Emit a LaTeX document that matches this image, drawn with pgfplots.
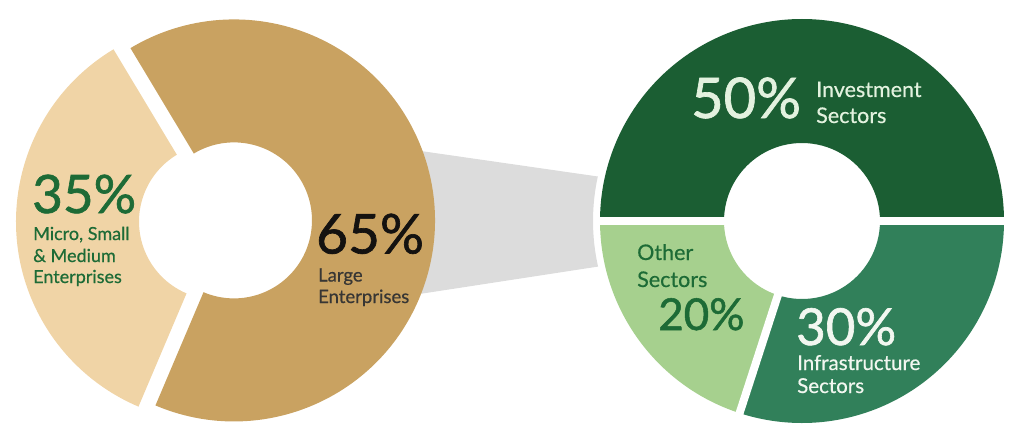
\documentclass[border=0pt]{standalone}
\usepackage{pgfplots}
\usepackage{pgfplotstable}
\pgfplotsset{compat=1.18}
\usetikzlibrary{calc}
\usepackage{fontspec}
\setmainfont{Lato}
\newfontfamily\latoB{Lato}[FakeBold=1.2]
\newfontfamily\latoM{Lato}[FakeBold=0.5]

\definecolor{tanD}{HTML}{C9A261}
\definecolor{tanL}{HTML}{F0D4A6}
\definecolor{grD}{HTML}{1B5E33}
\definecolor{grM}{HTML}{31805A}
\definecolor{grL}{HTML}{A6D08E}
\definecolor{band}{HTML}{DCDCDC}
\definecolor{txtG}{HTML}{1D6B36}
\definecolor{txtMint}{HTML}{E3F2DF}
\definecolor{txtW}{HTML}{F2F7F0}
\definecolor{txtK}{HTML}{141210}

% left donut: share of enterprises
\pgfplotstableread{
sector pct
MSME 35
Large 65
}\leftdata
% right donut: sectors of large enterprises
\pgfplotstableread{
sector pct
Investment 50
Other 20
Infrastructure 30
}\rightdata

\newcommand\donutwedge[7]{% cx cy a1 a2 R r color
  \fill[#7] ($(axis cs:#1,#2)+(#3:#5pt)$) arc[start angle=#3, end angle=#4, radius=#5pt]
    -- ($(axis cs:#1,#2)+(#4:#6pt)$) arc[start angle=#4, end angle=#3, radius=#6pt] -- cycle;}
\newcommand\lbl[6]{% x y color font size text
  \node[anchor=base west, inner sep=0pt, text depth=0pt, text=#3, font=#4\fontsize{#5}{#5}\selectfont] at (axis cs:#1,#2) {#6};}

\begin{document}
\begin{tikzpicture}
% angles from the data
\pgfplotstablegetelem{0}{pct}\of\leftdata \edef\pMS{\pgfplotsretval}
\pgfplotstablegetelem{1}{pct}\of\leftdata \edef\pLA{\pgfplotsretval}
\pgfplotstablegetelem{0}{pct}\of\rightdata \edef\pIN{\pgfplotsretval}
\pgfplotstablegetelem{1}{pct}\of\rightdata \edef\pOT{\pgfplotsretval}
\pgfplotstablegetelem{2}{pct}\of\rightdata \edef\pIF{\pgfplotsretval}
\pgfmathsetmacro\aMSa{121}
\pgfmathsetmacro\aMSb{\aMSa+3.6*\pMS}
\pgfmathsetmacro\aLAb{\aMSb+3.6*\pLA}
\pgfmathsetmacro\mMS{(\aMSa+\aMSb)/2}
\pgfmathsetmacro\mLA{(\aMSb+\aLAb)/2}
\pgfmathsetmacro\cxMS{225.5+8.5*cos(\mMS)}
\pgfmathsetmacro\cyMS{216+8.5*sin(\mMS)}
\pgfmathsetmacro\cxLA{225.5+8.5*cos(\mLA)}
\pgfmathsetmacro\cyLA{216+8.5*sin(\mLA)}
\pgfmathsetmacro\aINa{0}
\pgfmathsetmacro\aINb{\aINa+3.6*\pIN}
\pgfmathsetmacro\aOTb{\aINb+3.6*\pOT}
\pgfmathsetmacro\aIFb{\aOTb+3.6*\pIF}
\begin{axis}[hide axis, scale only axis, width=1024pt, height=437pt,
  xmin=0, xmax=1024, ymin=0, ymax=437, clip=false]
\coordinate (bbSW) at (axis cs:0,0);
\coordinate (bbNE) at (axis cs:1024,437);
% connector band
\fill[band] (axis cs:400,289) -- ($(axis cs:802,216)+(167.7:209pt)$)
  arc[start angle=167.7, end angle=192.6, radius=209pt] -- (axis cs:400,140) -- cycle;
% left donut
\donutwedge{\cxMS}{\cyMS}{\aMSa}{\aMSb}{201}{78}{tanL}
\donutwedge{\cxLA}{\cyLA}{\aMSb}{\aLAb}{201}{78}{tanD}
% right donut
\donutwedge{802}{216}{\aINa}{\aINb}{202}{78}{grD}
\donutwedge{802}{216}{\aINb}{\aOTb}{202}{78}{grL}
\donutwedge{802}{216}{\aOTb}{\aIFb}{202}{78}{grM}
\draw[white, line width=8pt] ($(axis cs:802,216)+(\aINa:76pt)$) -- ($(axis cs:802,216)+(\aINa:203pt)$);
\draw[white, line width=8pt] ($(axis cs:802,216)+(\aINb:76pt)$) -- ($(axis cs:802,216)+(\aINb:203pt)$);
\draw[white, line width=8pt] ($(axis cs:802,216)+(\aOTb:76pt)$) -- ($(axis cs:802,216)+(\aOTb:203pt)$);
% labels left
\lbl{32}{224}{txtG}{\latoB}{53}{35\%}
\lbl{33}{197}{txtG}{\latoM}{18}{Micro, Small}
\lbl{33}{175}{txtG}{\latoM}{18}{\& Medium}
\lbl{33}{154}{txtG}{\latoM}{18}{Enterprises}
\lbl{316}{183.5}{txtK}{\latoB}{55}{65\%}
\lbl{318}{155.5}{txtK!85}{\latoM}{18.5}{Large}
\lbl{318}{134}{txtK!85}{\latoM}{18.5}{Enterprises}
% labels right
\lbl{691}{319}{txtMint}{\latoB}{56}{50\%}
\lbl{816}{340}{txtMint}{\latoM}{21.5}{Investment}
\lbl{816}{314}{txtMint}{\latoM}{21.5}{Sectors}
\lbl{637}{177}{txtG}{\latoM}{21.5}{Other}
\lbl{637}{150}{txtG}{\latoM}{21.5}{Sectors}
\lbl{658}{107}{txtG}{\latoB}{44}{20\%}
\lbl{796}{92}{txtW}{\latoB}{51}{30\%}
\lbl{797}{67}{txtW}{\latoM}{20.5}{Infrastructure}
\lbl{797}{44}{txtW}{\latoM}{20.5}{Sectors}
\end{axis}
\pgfresetboundingbox
\path[use as bounding box] (bbSW) rectangle (bbNE);
\end{tikzpicture}
\end{document}
